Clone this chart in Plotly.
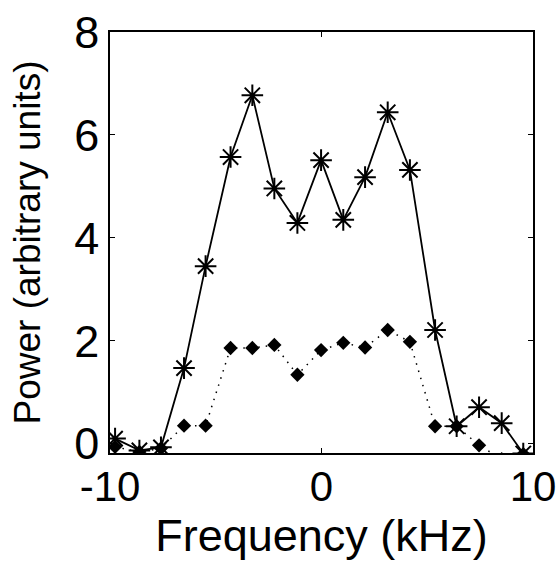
import plotly.graph_objects as go

# Frequency bins (kHz)
freq_khz = [-9.76, -8.61, -7.59, -6.50, -5.48, -4.30, -3.27, -2.23, -1.14, -0.02,
            1.03, 2.06, 3.13, 4.18, 5.37, 6.39, 7.45, 8.52, 9.54]

# Power spectra (arbitrary units)
power_upper = [0.10, -0.13, -0.07, 1.47, 3.45, 5.57, 6.77, 4.96, 4.29, 5.51,
               4.35, 5.18, 6.44, 5.32, 2.21, 0.34, 0.71, 0.40, -0.19]
power_lower = [-0.06, -0.16, -0.09, 0.35, 0.35, 1.86, 1.86, 1.92, 1.34, 1.82,
               1.96, 1.87, 2.21, 1.98, 0.34, 0.34, -0.03, -0.30, -0.20]

x_ticks = [-10, 0, 10]
x_tick_text = ["-10", "0", "10"]
y_ticks = [0, 2, 4, 6, 8]

FONT = "Liberation Sans, Arial, Helvetica, sans-serif"

fig = go.Figure()

fig.add_trace(go.Scatter(
    x=freq_khz, y=power_lower, mode="lines+markers",
    line=dict(color="black", width=1.5, dash="1.5px,6px"),
    marker=dict(symbol="diamond", size=11, color="black"),
    showlegend=False,
))

fig.add_trace(go.Scatter(
    x=freq_khz, y=power_upper, mode="lines+markers",
    line=dict(color="black", width=1.8),
    marker=dict(symbol="asterisk-open", size=18,
                line=dict(color="black", width=2)),
    showlegend=False,
))

axis_common = dict(
    showline=True, linecolor="black", linewidth=1.5, mirror="ticks",
    ticks="inside", ticklen=5, tickcolor="black", tickwidth=1.2,
    showgrid=False, zeroline=False, automargin=False,
    ticklabeloverflow="allow",
)

fig.update_layout(
    width=556, height=569,
    margin=dict(l=110, r=23, t=32, b=116),
    paper_bgcolor="white", plot_bgcolor="white",
    xaxis=dict(range=[-10, 10], tickvals=x_ticks, ticktext=x_tick_text,
               ticklabelstandoff=-4,
               tickfont=dict(family=FONT, size=42, color="black"),
               title=dict(text="Frequency (kHz)", standoff=4,
                          font=dict(family=FONT, size=45, color="black")),
               **axis_common),
    yaxis=dict(range=[-0.18, 8], tickvals=y_ticks,
               tickfont=dict(family=FONT, size=45, color="black"),
               title=dict(text="Power (arbitrary units)", standoff=22,
                          font=dict(family=FONT, size=37, color="black")),
               **axis_common),
)

fig.write_html("out.html")
